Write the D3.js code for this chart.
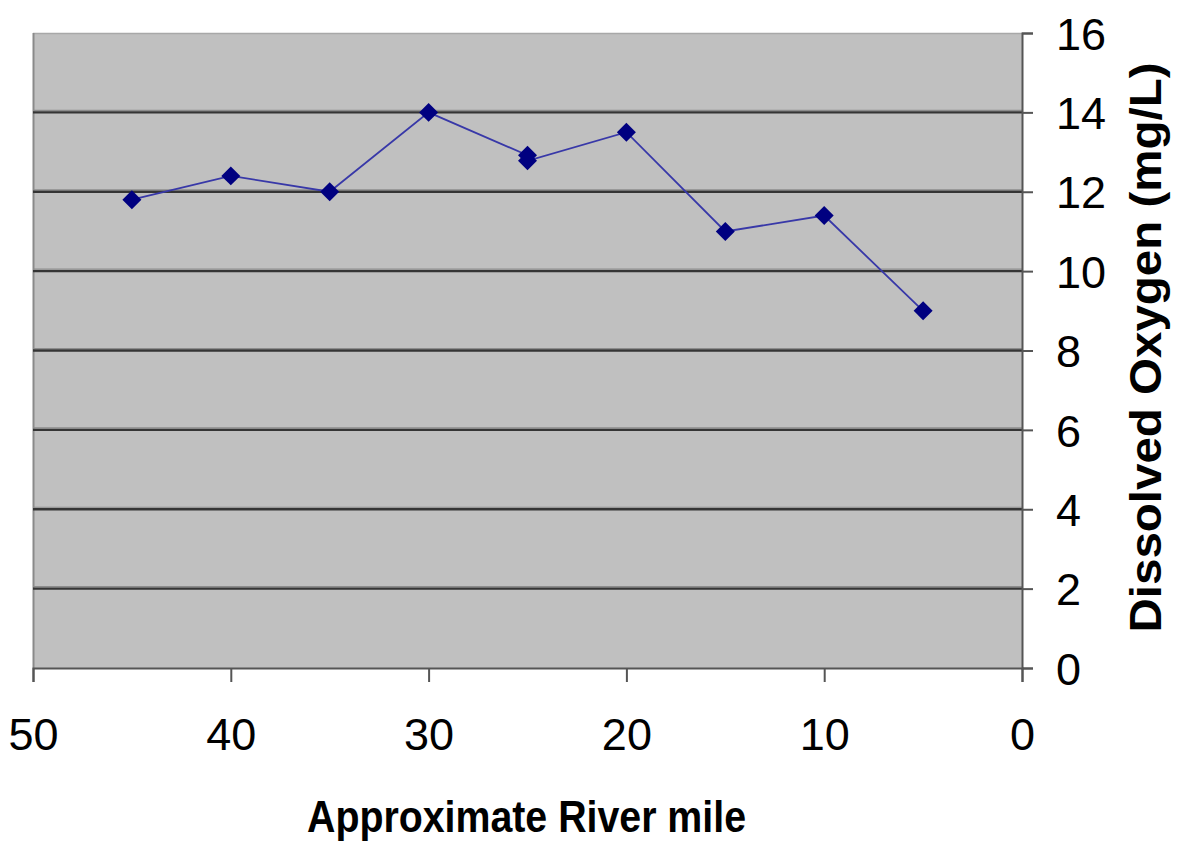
<!DOCTYPE html>
<html>
<head>
<meta charset="utf-8">
<script src="https://cdn.jsdelivr.net/npm/d3@7"></script>
<style>
  html, body { margin: 0; padding: 0; background: #ffffff; }
  svg { display: block; }
  text { font-family: Arial, "Liberation Sans", Helvetica, sans-serif; fill: #000; }
</style>
</head>
<body>
<svg id="chart" width="1177" height="842"></svg>
<script>
// River mile (upstream on the left) and dissolved oxygen readings
const riverMile = [45, 40, 35, 30, 25, 25, 20, 15, 10, 5];
const dissolvedOxygen = [11.8, 12.4, 12.0, 14.0, 12.92, 12.78, 13.5, 11.0, 11.4, 9.0];

const xTicks = [50, 40, 30, 20, 10, 0];
const yTicks = [0, 2, 4, 6, 8, 10, 12, 14, 16];

const xTitle = "Approximate River mile";
const yTitle = "Dissolved Oxygen (mg/L)";

const svg = d3.select("#chart");
const plot = { left: 33, right: 1022, top: 33, bottom: 668 };

const x = d3.scaleLinear().domain([50, 0]).range([plot.left, plot.right]);
const y = d3.scaleLinear().domain([0, 16]).range([plot.bottom, plot.top]);

// Plot area background
svg.append("rect")
  .attr("x", plot.left).attr("y", plot.top)
  .attr("width", plot.right - plot.left).attr("height", plot.bottom - plot.top)
  .attr("fill", "#c0c0c0");

// Frame edges: top light, left mid gray
svg.append("line")
  .attr("x1", plot.left).attr("x2", plot.right)
  .attr("y1", plot.top + 0.5).attr("y2", plot.top + 0.5)
  .attr("stroke", "#a8a8a8").attr("stroke-width", 1.5);
svg.append("line")
  .attr("x1", plot.left + 0.5).attr("x2", plot.left + 0.5)
  .attr("y1", plot.top).attr("y2", plot.bottom)
  .attr("stroke", "#8a8a8a").attr("stroke-width", 2);

// Horizontal gridlines
const gridVals = yTicks.filter(v => v > 0 && v < 16);
const grid = svg.append("g");
grid.selectAll("line.g2")
  .data(gridVals)
  .join("line")
  .attr("class", "g2")
  .attr("x1", plot.left).attr("x2", plot.right)
  .attr("y1", d => y(d) - 2).attr("y2", d => y(d) - 2)
  .attr("stroke", "#8c8c8c").attr("stroke-width", 1.2);
grid.selectAll("line.g1")
  .data(gridVals)
  .join("line")
  .attr("class", "g1")
  .attr("x1", plot.left).attr("x2", plot.right)
  .attr("y1", d => y(d)).attr("y2", d => y(d))
  .attr("stroke", "#353535").attr("stroke-width", 2.4);

// Right-hand value axis
const yAxis = d3.axisRight(y).tickValues(yTicks).tickSize(11).tickPadding(23)
  .tickFormat(d3.format("d"));
const gy = svg.append("g")
  .attr("transform", `translate(${plot.right},0)`)
  .call(yAxis);
gy.select(".domain").attr("stroke", "#555").attr("stroke-width", 2);
gy.selectAll(".tick line").attr("stroke", "#555").attr("stroke-width", 2);
gy.selectAll(".tick text")
  .attr("font-size", 45)
  .attr("font-family", "Arial, 'Liberation Sans', sans-serif")
  .attr("fill", "#111")
  .attr("dy", "0.36em");

// Bottom axis (river mile, decreasing to the right)
const xAxis = d3.axisBottom(x).tickValues(xTicks).tickSize(14).tickPadding(36)
  .tickFormat(d3.format("d"));
const gx = svg.append("g")
  .attr("transform", `translate(0,${plot.bottom})`)
  .call(xAxis);
gx.select(".domain").attr("stroke", "#555").attr("stroke-width", 2);
gx.selectAll(".tick line").attr("stroke", "#555").attr("stroke-width", 2);
gx.selectAll(".tick text")
  .attr("font-size", 45)
  .attr("font-family", "Arial, 'Liberation Sans', sans-serif")
  .attr("fill", "#111");

// Data series
const pts = riverMile.map((m, i) => ({ m, v: dissolvedOxygen[i] }));
const line = d3.line().x(d => x(d.m)).y(d => y(d.v));
svg.append("path")
  .datum(pts)
  .attr("d", line)
  .attr("fill", "none")
  .attr("stroke", "#3838a8")
  .attr("stroke-width", 1.8);

const diamond = d3.symbol().type(d3.symbolDiamond2).size(230);
svg.selectAll("path.marker")
  .data(pts)
  .join("path")
  .attr("class", "marker")
  .attr("transform", d => `translate(${x(d.m)},${y(d.v)})`)
  .attr("d", diamond)
  .attr("fill", "#000080");

// Axis titles
svg.append("text")
  .attr("x", (plot.left + plot.right) / 2 - 1)
  .attr("y", 832)
  .attr("text-anchor", "middle")
  .attr("font-size", 44)
  .attr("font-weight", "bold")
  .attr("textLength", 439)
  .attr("lengthAdjust", "spacingAndGlyphs")
  .text(xTitle);

svg.append("text")
  .attr("transform", `translate(1161,${(plot.top + plot.bottom) / 2 - 3}) rotate(-90)`)
  .attr("text-anchor", "middle")
  .attr("font-size", 45)
  .attr("font-weight", "bold")
  .attr("textLength", 570)
  .attr("lengthAdjust", "spacingAndGlyphs")
  .text(yTitle);
</script>
</body>
</html>
